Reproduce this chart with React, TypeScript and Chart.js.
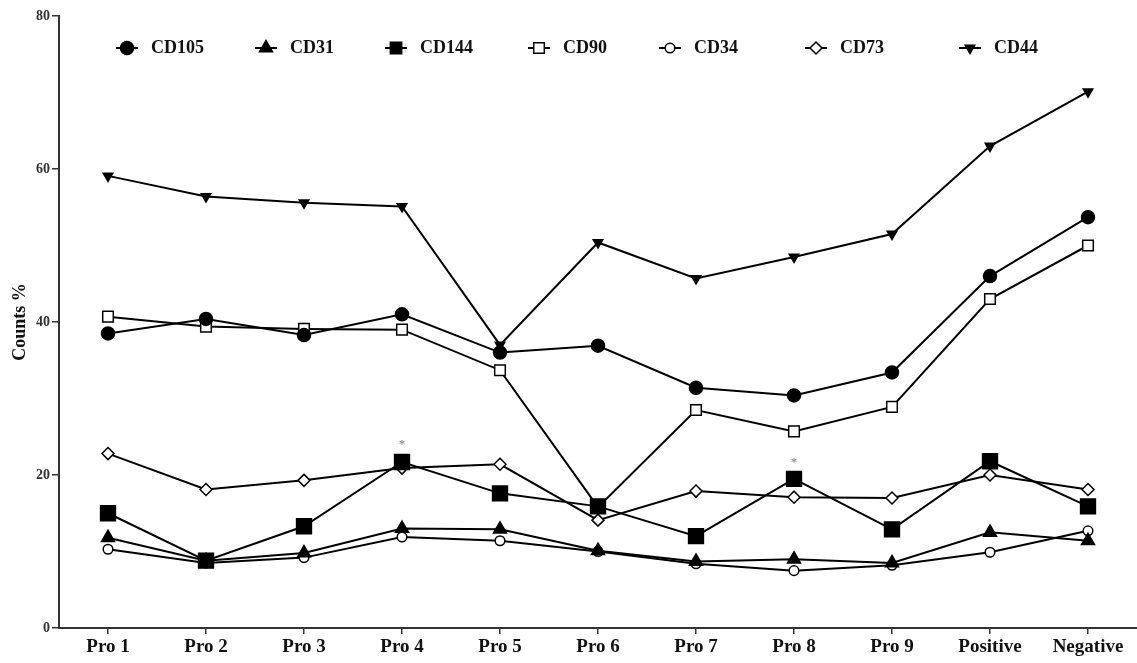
import React, { useEffect, useRef } from "react";
import { Chart, registerables } from "chart.js";

Chart.register(...registerables);

// ---- data ----
const categories = ["Pro 1", "Pro 2", "Pro 3", "Pro 4", "Pro 5", "Pro 6", "Pro 7", "Pro 8", "Pro 9", "Positive", "Negative"];
const cd105 = [38.5, 40.4, 38.3, 41.0, 36.0, 36.9, 31.4, 30.4, 33.4, 46.0, 53.7];
const cd31 = [11.8, 8.8, 9.8, 13.0, 12.9, 10.1, 8.7, 9.0, 8.5, 12.5, 11.4];
const cd144 = [15.0, 8.8, 13.3, 21.7, 17.6, 15.9, 12.0, 19.5, 12.9, 21.8, 15.9];
const cd90 = [40.7, 39.4, 39.1, 39.0, 33.7, 15.8, 28.5, 25.7, 28.9, 43.0, 50.0];
const cd34 = [10.3, 8.5, 9.2, 11.9, 11.4, 10.0, 8.4, 7.5, 8.2, 9.9, 12.7];
const cd73 = [22.8, 18.1, 19.3, 20.9, 21.4, 14.1, 17.9, 17.1, 17.0, 20.0, 18.1];
const cd44 = [59.1, 56.4, 55.6, 55.1, 37.0, 50.4, 45.7, 48.5, 51.5, 63.0, 70.1];
const seriesNames = ["CD105", "CD31", "CD144", "CD90", "CD34", "CD73", "CD44"];
const yTicks = [0, 20, 40, 60, 80];
const starCategories = ["Pro 4", "Pro 8"];
const starValues = [24.4, 22.0];

// ---- styles ----
type Sty = { style: string; radius: number; fill: string; rotation: number };
const styles: Sty[] = [
  { style: "circle", radius: 6.5, fill: "#000", rotation: 0 },
  { style: "triangle", radius: 7.5, fill: "#000", rotation: 0 },
  { style: "rect", radius: 10.5, fill: "#000", rotation: 0 },
  { style: "rect", radius: 7.5, fill: "#fff", rotation: 0 },
  { style: "circle", radius: 4.8, fill: "#fff", rotation: 0 },
  { style: "rectRot", radius: 6, fill: "#fff", rotation: 0 },
  { style: "triangle", radius: 5.5, fill: "#000", rotation: 180 },
];
const legendX = [127, 266, 396, 539, 670, 816, 970];
const legendY = 48;
const serif = "'Liberation Serif', 'DejaVu Serif', serif";
const CANVAS_W = 1149;

function drawMarker(ctx: CanvasRenderingContext2D, s: Sty, x: number, y: number) {
  ctx.save();
  ctx.translate(x, y);
  ctx.rotate((s.rotation * Math.PI) / 180);
  ctx.beginPath();
  const r = s.radius;
  if (s.style === "circle") {
    ctx.arc(0, 0, r, 0, Math.PI * 2);
  } else if (s.style === "triangle") {
    for (let i = 0; i < 3; i++) {
      const a = -Math.PI / 2 + (i * 2 * Math.PI) / 3;
      const px = Math.cos(a) * r;
      const py = Math.sin(a) * r;
      if (i === 0) ctx.moveTo(px, py);
      else ctx.lineTo(px, py);
    }
    ctx.closePath();
  } else if (s.style === "rect") {
    const h = Math.SQRT1_2 * r;
    ctx.rect(-h, -h, 2 * h, 2 * h);
  } else if (s.style === "rectRot") {
    ctx.moveTo(0, -r);
    ctx.lineTo(r, 0);
    ctx.lineTo(0, r);
    ctx.lineTo(-r, 0);
    ctx.closePath();
  }
  ctx.fillStyle = s.fill;
  ctx.fill();
  ctx.lineWidth = 1.5;
  ctx.strokeStyle = "#000";
  ctx.stroke();
  ctx.restore();
}

const legendPlugin = {
  id: "customLegend",
  afterDraw(chart: any) {
    const ctx: CanvasRenderingContext2D = chart.ctx;
    ctx.save();
    seriesNames.forEach((name, i) => {
      const cx = legendX[i];
      ctx.beginPath();
      ctx.moveTo(cx - 11, legendY);
      ctx.lineTo(cx + 11, legendY);
      ctx.lineWidth = 2;
      ctx.strokeStyle = "#000";
      ctx.stroke();
      drawMarker(ctx, { ...styles[i], radius: Math.min(styles[i].radius, 8) }, cx, legendY);
      ctx.fillStyle = "#111";
      ctx.font = `bold 18px ${serif}`;
      ctx.textBaseline = "middle";
      ctx.textAlign = "left";
      ctx.fillText(name, cx + 24, legendY);
    });
    ctx.restore();
  },
};

const starPlugin = {
  id: "stars",
  afterDatasetsDraw(chart: any) {
    const ctx: CanvasRenderingContext2D = chart.ctx;
    const xs = chart.scales.x;
    const ys = chart.scales.y;
    ctx.save();
    ctx.fillStyle = "#777";
    ctx.font = `13px ${serif}`;
    ctx.textAlign = "center";
    ctx.textBaseline = "middle";
    starCategories.forEach((c, i) => {
      const idx = categories.indexOf(c);
      ctx.fillText("*", xs.getPixelForValue(idx), ys.getPixelForValue(starValues[i]) + 3);
    });
    ctx.restore();
  },
};

export default function App() {
  const ref = useRef<HTMLCanvasElement | null>(null);
  useEffect(() => {
    if (!ref.current) return;
    const all = [cd105, cd31, cd144, cd90, cd34, cd73, cd44];
    const datasets = all.map((d, i) => ({
      label: seriesNames[i],
      data: d,
      borderColor: "#000",
      borderWidth: 2,
      backgroundColor: styles[i].fill,
      pointStyle: styles[i].style as any,
      pointRadius: styles[i].radius,
      pointRotation: styles[i].rotation,
      pointBackgroundColor: styles[i].fill,
      pointBorderColor: "#000",
      pointBorderWidth: 1.5,
      tension: 0,
      fill: false,
    }));
    const chart = new Chart(ref.current, {
      type: "line",
      data: { labels: categories, datasets },
      options: {
        animation: false,
        responsive: false,
        devicePixelRatio: 1,
        layout: { padding: { top: 16, right: 0, left: 0, bottom: 0 } },
        plugins: { legend: { display: false }, tooltip: { enabled: false } },
        scales: {
          x: {
            offset: true,
            grid: { drawOnChartArea: false, drawTicks: true, tickLength: 6, color: "#333", lineWidth: 1.5 },
            border: { display: true, color: "#333", width: 2 },
            ticks: { color: "#111", font: { family: serif, size: 19, weight: "bold" }, padding: 2, autoSkip: false, maxRotation: 0 },
            afterFit: (s: any) => {
              s.height = 35;
              s.paddingLeft = 0;
              s.paddingRight = 0;
            },
          },
          y: {
            min: 0,
            max: 80,
            afterBuildTicks: (s: any) => {
              s.ticks = yTicks.map((v) => ({ value: v }));
            },
            grid: { drawOnChartArea: false, drawTicks: true, tickLength: 7, color: "#333", lineWidth: 1.5 },
            border: { display: true, color: "#333", width: 2 },
            ticks: { color: "#333", font: { family: serif, size: 14, weight: "bold" }, padding: 2 },
            title: {
              display: true,
              text: "Counts %",
              color: "#111",
              font: { family: serif, size: 18, weight: "bold" },
              padding: { top: 10, bottom: 0 },
            },
            afterFit: (s: any) => {
              s.width = 59;
            },
          },
        },
      },
      plugins: [starPlugin, legendPlugin],
    });
    return () => chart.destroy();
  }, []);
  return (
    <div style={{ position: "fixed", left: 0, top: 0, width: 1137, height: 663, background: "#fff", overflow: "hidden" }}>
      <canvas ref={ref} width={CANVAS_W} height={663} style={{ width: CANVAS_W, height: 663, display: "block" }} />
    </div>
  );
}
